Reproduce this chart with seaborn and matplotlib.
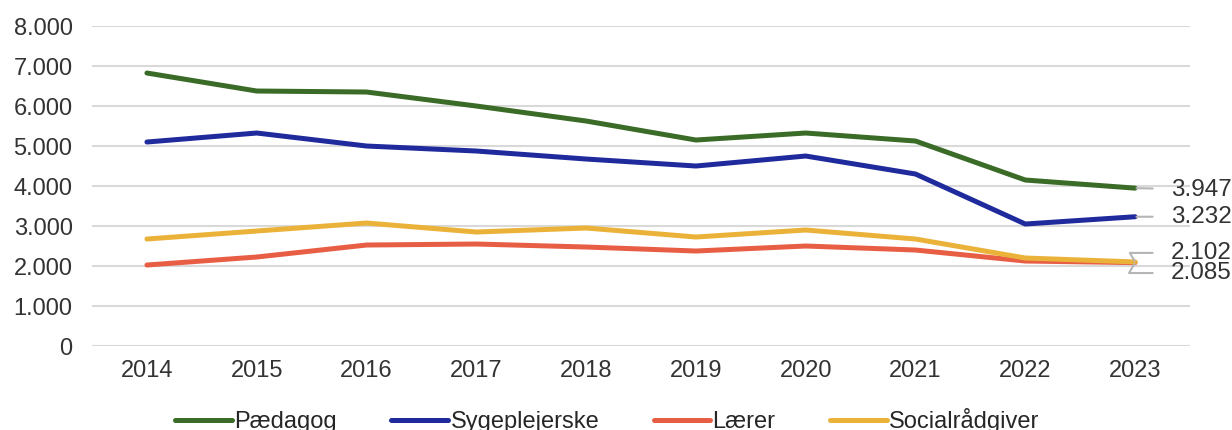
import pandas as pd
import numpy as np
import matplotlib
matplotlib.use("Agg")
import matplotlib.pyplot as plt
import seaborn as sns

# data
years = ["2014", "2015", "2016", "2017", "2018", "2019", "2020", "2021", "2022", "2023"]
paedagog = [6825, 6375, 6350, 6000, 5625, 5150, 5325, 5125, 4150, 3947]
sygeplejerske = [5100, 5325, 5000, 4875, 4675, 4500, 4750, 4300, 3050, 3232]
laerer = [2025, 2225, 2525, 2550, 2475, 2375, 2500, 2400, 2125, 2085]
socialraadgiver = [2675, 2875, 3075, 2850, 2950, 2725, 2900, 2675, 2200, 2102]

series_names = ["Pædagog", "Sygeplejerske", "Lærer", "Socialrådgiver"]
colors = ["#3A6B27", "#1F2A9C", "#E85E45", "#EBB23A"]

df = pd.DataFrame({
    "year": years * 4,
    "value": paedagog + sygeplejerske + laerer + socialraadgiver,
    "serie": np.repeat(series_names, len(years)),
})

sns.set_style("white")
plt.rcParams["font.family"] = ["Liberation Sans", "DejaVu Sans"]

fig = plt.figure(figsize=(12.32, 4.30), dpi=100)
ax = fig.add_axes([0.0747, 0.1953, 0.8912, 0.7442])

sns.lineplot(data=df, x="year", y="value", hue="serie", palette=colors,
             linewidth=3.6, ax=ax, sort=False, solid_capstyle="round")

ax.set_xlim(-0.5, len(years) - 0.5)
ax.set_ylim(0, 8000)
ax.set_yticks(range(0, 8001, 1000))
ax.set_yticklabels([f"{v:,}".replace(",", ".") for v in range(0, 8001, 1000)])
ax.grid(axis="y", color="#D9D9D9", linewidth=1.5)
ax.grid(axis="x", visible=False)
ax.set_axisbelow(True)
for s in ax.spines.values():
    s.set_visible(False)
ax.tick_params(axis="both", length=0, labelsize=17, labelcolor="#333333")
ax.tick_params(axis="x", pad=10)
ax.tick_params(axis="y", pad=14)
ax.set_xlabel("")
ax.set_ylabel("")

# end-of-line value labels with gray leader lines
last = len(years) - 1
end_vals = [paedagog[-1], sygeplejerske[-1], socialraadgiver[-1], laerer[-1]]
offsets = [-1, 0, 6.5, -7.5]
for v, dy in zip(end_vals, offsets):
    lbl = f"{v:,}".replace(",", ".")
    if abs(dy) < 2:
        cs = "arc3"
    else:
        cs = "angle,angleA=0,angleB=%d,rad=0" % (-60 if dy > 0 else 60)
    ax.annotate(lbl, xy=(last, v), xytext=(26, dy), textcoords="offset points",
                fontsize=17.5, color="#333333", va="center", ha="left",
                annotation_clip=False,
                arrowprops=dict(arrowstyle="-", color="#B5B5B5", lw=1.5,
                                connectionstyle=cs, shrinkA=11, shrinkB=1))

ax.get_legend().remove()
handles = [plt.Line2D([0], [0], color=c, lw=3.6, solid_capstyle="round") for c in colors]
fig.legend(handles, series_names, loc="center", bbox_to_anchor=(0.493, 0.022),
           ncol=4, frameon=False, fontsize=17, handlelength=2.4,
           handletextpad=0.1, columnspacing=2.3, borderpad=0)

fig.savefig("out.png", dpi=100)
